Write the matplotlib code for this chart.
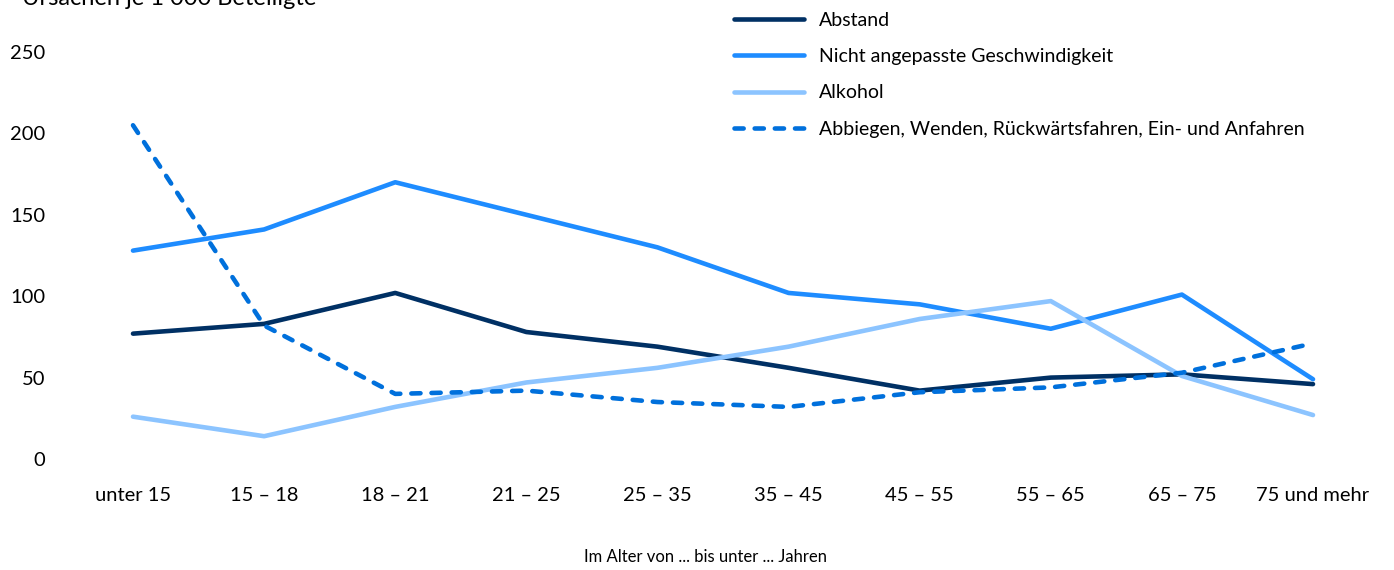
import matplotlib
matplotlib.use("Agg")
import matplotlib.pyplot as plt

plt.rcParams['font.family'] = ['Lato', 'DejaVu Sans']

# Daten
altersgruppen = ["unter 15", "15 – 18", "18 – 21", "21 – 25", "25 – 35",
                 "35 – 45", "45 – 55", "55 – 65", "65 – 75", "75 und mehr"]
abstand = [77, 83, 102, 78, 69, 56, 42, 50, 52, 46]
geschwindigkeit = [128, 141, 170, 150, 130, 102, 95, 80, 101, 49]
alkohol = [26, 14, 32, 47, 56, 69, 86, 97, 51, 27]
abbiegen = [205, 82, 40, 42, 35, 32, 41, 44, 53, 71]
y_ticks = [0, 50, 100, 150, 200, 250]

W, H = 1394, 570
fig = plt.figure(figsize=(W / 100, H / 100), dpi=100)
ax = fig.add_axes([133 / W, (H - 459) / H, (1313 - 133) / W, (459 - 52) / H])

x = list(range(len(altersgruppen)))
lw = 3.3
ax.plot(x, abstand, color="#003064", lw=lw, solid_capstyle="round",
        solid_joinstyle="round", label="Abstand", clip_on=False)
ax.plot(x, geschwindigkeit, color="#1e8cff", lw=lw, solid_capstyle="round",
        solid_joinstyle="round", label="Nicht angepasste Geschwindigkeit", clip_on=False)
ax.plot(x, alkohol, color="#8cc4ff", lw=lw, solid_capstyle="round",
        solid_joinstyle="round", label="Alkohol", clip_on=False)
ax.plot(x, abbiegen, color="#0070dc", lw=lw, dashes=(2.0, 2.4), dash_capstyle="round",
        label="Abbiegen, Wenden, Rückwärtsfahren, Ein- und Anfahren", clip_on=False)

ax.set_xlim(0, 9)
ax.set_ylim(0, 250)
ax.set_xticks(x)
ax.set_xticklabels(altersgruppen, fontsize=14.5)
ax.set_yticks(y_ticks)
ax.set_yticklabels([str(v) for v in y_ticks], fontsize=14.5)
ax.tick_params(axis="x", length=0, pad=20)
ax.tick_params(axis="y", length=0, pad=63)
for lbl in ax.get_yticklabels():
    lbl.set_horizontalalignment("right")
for s in ax.spines.values():
    s.set_visible(False)

fig.text(705 / W, (H - 557) / H, "Im Alter von ... bis unter ... Jahren", fontsize=12,
         ha="center", va="center")

fig.text(22 / W, (H - 5) / H, "Ursachen je 1 000 Beteiligte", fontsize=17,
         ha="left", va="baseline")

leg = fig.legend(loc="upper left", bbox_to_anchor=(716 / W, 1.0 + 6 / H),
                 frameon=False, fontsize=14, handlelength=3.6, handletextpad=0.8,
                 labelspacing=1.0)

fig.savefig("out.png", dpi=100)
